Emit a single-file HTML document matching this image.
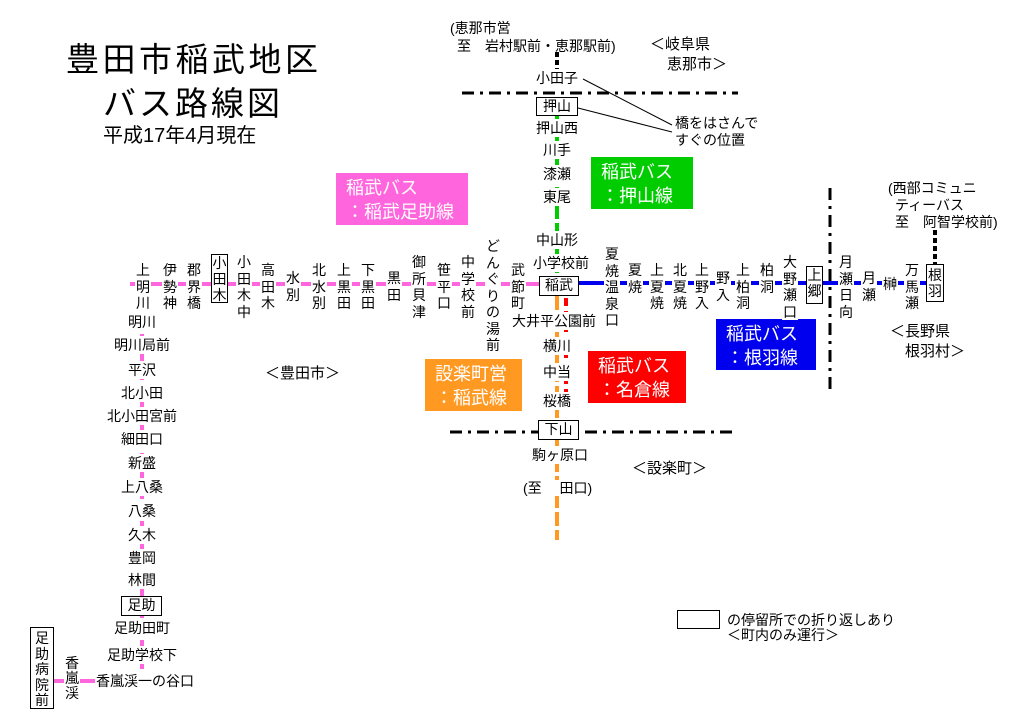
<!DOCTYPE html>
<html><head><meta charset="utf-8"><style>
body{margin:0;background:#fff;}
#c{position:relative;width:1024px;height:723px;overflow:hidden;background:#fff;font-family:"Liberation Sans","Noto Sans CJK JP",sans-serif;color:#000;}
.t{position:absolute;font-size:14px;line-height:16px;white-space:nowrap;}
.h{position:absolute;font-size:14px;line-height:16px;white-space:nowrap;background:#fff;transform:translate(-50%,-50%);padding:1px 1px;}
.v{position:absolute;font-size:14px;line-height:16.5px;width:16px;text-align:center;background:#fff;white-space:normal;word-break:break-all;}
.bx{position:absolute;border:1.5px solid #000;background:#fff;box-sizing:border-box;font-size:14px;text-align:center;}
.lab{position:absolute;color:#fff;font-size:18px;line-height:24px;box-sizing:border-box;padding:3px 0 0 10px;white-space:nowrap;}
svg{position:absolute;left:0;top:0;}
</style></head><body><div id="c">
<svg width="1024" height="723">
<g stroke="#ff66dd" stroke-width="4">
<line x1="130" y1="284" x2="540" y2="284"/>
<line x1="142" y1="300" x2="142" y2="680" stroke-dasharray="12 5"/>
<line x1="40" y1="681" x2="100" y2="681"/>
</g>
<line x1="578" y1="283" x2="930" y2="283" stroke="#0000ee" stroke-width="4"/>
<line x1="557" y1="115" x2="557" y2="277" stroke="#00cc00" stroke-width="4" stroke-dasharray="14 4"/>
<line x1="557" y1="296" x2="557" y2="540" stroke="#ff9922" stroke-width="4" stroke-dasharray="14 4"/>
<line x1="566" y1="298" x2="566" y2="415" stroke="#ff0000" stroke-width="4" stroke-dasharray="8 5"/>
<g stroke="#000" stroke-width="3" stroke-dasharray="12 6 3 6">
<line x1="462" y1="93" x2="738" y2="93"/>
<line x1="450" y1="432" x2="735" y2="432"/>
<line x1="830" y1="188" x2="830" y2="392"/>
</g>
<line x1="557" y1="52" x2="557" y2="70" stroke="#000" stroke-width="4" stroke-dasharray="5 3"/>
<line x1="935" y1="230" x2="935" y2="264" stroke="#000" stroke-width="4" stroke-dasharray="5 3"/>
<line x1="583" y1="79" x2="672" y2="125" stroke="#000" stroke-width="1"/>
<line x1="578" y1="108" x2="672" y2="132" stroke="#000" stroke-width="1"/>
</svg>

<div class="t" style="left:66px;top:40px;font-size:33px;line-height:40px;letter-spacing:3.5px">豊田市稲武地区</div>
<div class="t" style="left:103px;top:84px;font-size:33px;line-height:40px;letter-spacing:3px">バス路線図</div>
<div class="t" style="left:103px;top:124px;font-size:20px;line-height:24px">平成17年4月現在</div>

<div class="lab" style="left:336px;top:173px;width:132px;height:52px;background:#ff66dd">稲武バス<br>：稲武足助線</div>
<div class="lab" style="left:591px;top:157px;width:102px;height:52px;background:#00cc00">稲武バス<br>：押山線</div>
<div class="lab" style="left:716px;top:319px;width:100px;height:51px;background:#0000ee">稲武バス<br>：根羽線</div>
<div class="lab" style="left:588px;top:351px;width:98px;height:52px;background:#ff0000">稲武バス<br>：名倉線</div>
<div class="lab" style="left:425px;top:359px;width:97px;height:52px;background:#ff9922">設楽町営<br>：稲武線</div>

<div class="v" style="left:135px;top:262px">上明川</div>
<div class="v" style="left:162px;top:262px">伊勢神</div>
<div class="v" style="left:186px;top:262px">郡界橋</div>
<div class="bx" style="left:211px;top:254px;width:17px;height:49px;line-height:16px;padding-top:0">小田木</div>
<div class="v" style="left:236px;top:254px">小田木中</div>
<div class="v" style="left:260px;top:262px">高田木</div>
<div class="v" style="left:285px;top:270px">水別</div>
<div class="v" style="left:311px;top:262px">北水別</div>
<div class="v" style="left:336px;top:262px">上黒田</div>
<div class="v" style="left:360px;top:262px">下黒田</div>
<div class="v" style="left:386px;top:270px">黒田</div>
<div class="v" style="left:411px;top:254px">御所貝津</div>
<div class="v" style="left:436px;top:262px">笹平口</div>
<div class="v" style="left:460px;top:254px">中学校前</div>
<div class="v" style="left:485px;top:238px">どんぐりの湯前</div>
<div class="v" style="left:510px;top:262px">武節町</div>
<div class="bx" style="left:539px;top:276px;width:40px;height:20px;line-height:17px">稲武</div>
<div class="v" style="left:604px;top:246px">夏焼温泉口</div>
<div class="v" style="left:627px;top:262px">夏焼</div>
<div class="v" style="left:649px;top:262px">上夏焼</div>
<div class="v" style="left:672px;top:262px">北夏焼</div>
<div class="v" style="left:694px;top:262px">上野入</div>
<div class="v" style="left:715px;top:270px">野入</div>
<div class="v" style="left:735px;top:262px">上柏洞</div>
<div class="v" style="left:759px;top:262px">柏洞</div>
<div class="v" style="left:782px;top:254px">大野瀬口</div>
<div class="bx" style="left:806px;top:266px;width:17px;height:38px;line-height:16px">上郷</div>
<div class="v" style="left:838px;top:254px">月瀬日向</div>
<div class="v" style="left:861px;top:270px">月瀬</div>
<div class="v" style="left:882px;top:276px">榊</div>
<div class="v" style="left:904px;top:262px">万馬瀬</div>
<div class="bx" style="left:926px;top:264px;width:18px;height:38px;line-height:16px;padding-top:2px">根羽</div>

<div class="h" style="left:142px;top:322px">明川</div>
<div class="h" style="left:142px;top:345px">明川局前</div>
<div class="h" style="left:142px;top:370px">平沢</div>
<div class="h" style="left:142px;top:393px">北小田</div>
<div class="h" style="left:142px;top:416px">北小田宮前</div>
<div class="h" style="left:142px;top:439px">細田口</div>
<div class="h" style="left:142px;top:463px">新盛</div>
<div class="h" style="left:142px;top:487px">上八桑</div>
<div class="h" style="left:142px;top:511px">八桑</div>
<div class="h" style="left:142px;top:535px">久木</div>
<div class="h" style="left:142px;top:558px">豊岡</div>
<div class="h" style="left:142px;top:580px">林間</div>
<div class="bx" style="left:121px;top:596px;width:41px;height:20px;line-height:17px">足助</div>
<div class="h" style="left:142px;top:628px">足助田町</div>
<div class="h" style="left:142px;top:655px">足助学校下</div>
<div class="h" style="left:145px;top:681px">香嵐渓一の谷口</div>
<div class="v" style="left:64px;top:656px;line-height:15px">香嵐渓</div>
<div class="bx" style="left:30px;top:627px;width:24px;height:82px;line-height:15.5px;padding-top:3px">足<br>助<br>病<br>院<br>前</div>

<div class="t" style="left:450px;top:20px">(恵那市営</div>
<div class="t" style="left:457px;top:38px">至　岩村駅前・恵那駅前)</div>
<div class="t" style="left:650px;top:37px;font-size:15px">＜岐阜県</div>
<div class="t" style="left:667px;top:57px;font-size:15px">恵那市＞</div>
<div class="h" style="left:557px;top:78px">小田子</div>
<div class="bx" style="left:536px;top:97px;width:42px;height:19px;line-height:16px">押山</div>
<div class="h" style="left:557px;top:128px">押山西</div>
<div class="h" style="left:557px;top:150px">川手</div>
<div class="h" style="left:557px;top:174px">漆瀬</div>
<div class="h" style="left:557px;top:197px">東尾</div>
<div class="h" style="left:557px;top:240px">中山形</div>
<div class="h" style="left:561px;top:263px">小学校前</div>
<div class="t" style="left:675px;top:115px">橋をはさんで</div>
<div class="t" style="left:675px;top:132px">すぐの位置</div>
<div class="h" style="left:554px;top:321px">大井平公園前</div>
<div class="h" style="left:557px;top:346px">横川</div>
<div class="h" style="left:557px;top:372px">中当</div>
<div class="h" style="left:557px;top:401px">桜橋</div>
<div class="bx" style="left:538px;top:420px;width:41px;height:20px;line-height:17px">下山</div>
<div class="h" style="left:560px;top:455px">駒ヶ原口</div>
<div class="t" style="left:523px;top:480px;background:#fff">(至　 田口)</div>

<div class="t" style="left:265px;top:366px;font-size:15px">＜豊田市＞</div>
<div class="t" style="left:632px;top:461px;font-size:15px">＜設楽町＞</div>
<div class="t" style="left:890px;top:324px;font-size:15px">＜長野県</div>
<div class="t" style="left:905px;top:344px;font-size:15px">根羽村＞</div>
<div class="t" style="left:888px;top:180px">(西部コミュニ</div>
<div class="t" style="left:895px;top:197px">ティーバス</div>
<div class="t" style="left:895px;top:214px">至　阿智学校前)</div>

<div class="bx" style="left:677px;top:610px;width:43px;height:19px"></div>
<div class="t" style="left:727px;top:612px">の停留所での折り返しあり</div>
<div class="t" style="left:727px;top:627px">＜町内のみ運行＞</div>
</div></body></html>
